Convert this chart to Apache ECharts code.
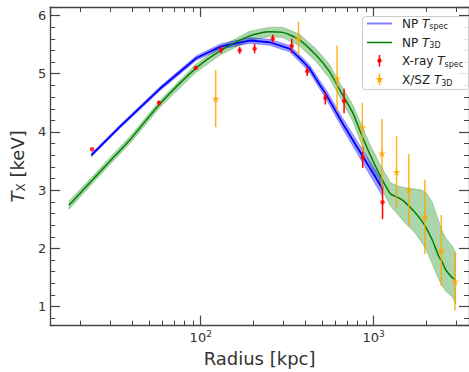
<!DOCTYPE html>
<html><head><meta charset="utf-8">
<script src="https://cdn.jsdelivr.net/npm/echarts@6/dist/echarts.min.js"></script>
<style>html,body{margin:0;padding:0;background:#fff}#c{width:469px;height:372px}</style>
</head><body><div id="c"></div>
<script>
// NP T_spec model (blue) with uncertainty band
const blueR   = [23.3, 34.1, 58, 94.4, 131, 192, 250, 326, 372, 426, 486, 532, 664, 865, 1127];
const blueT   = [3.60, 4.09, 4.74, 5.27, 5.47, 5.57, 5.54, 5.43, 5.27, 5.09, 4.82, 4.64, 4.14, 3.58, 3.02];
const blueErr = [0.03, 0.03, 0.035, 0.04, 0.045, 0.05, 0.05, 0.055, 0.06, 0.065, 0.07, 0.08, 0.09, 0.11, 0.13];
// NP T_3D model (green) with band
const greenR  = [17.3, 23.9, 31.2, 38.9, 58, 93.6, 131, 192, 250, 298, 372, 464, 555, 635, 757, 826, 944, 1104, 1257, 1410, 1534, 1718, 1900, 2009, 2180, 2393, 2490, 2615, 2860, 2991];
const greenT  = [2.74, 3.19, 3.56, 3.86, 4.48, 5.09, 5.40, 5.65, 5.72, 5.71, 5.58, 5.32, 5.04, 4.73, 4.33, 4.05, 3.64, 3.22, 2.93, 2.86, 2.78, 2.63, 2.47, 2.36, 2.15, 1.85, 1.77, 1.63, 1.49, 1.46];
const greenLo = [2.67, 3.13, 3.50, 3.80, 4.42, 5.02, 5.33, 5.57, 5.64, 5.62, 5.48, 5.21, 4.92, 4.61, 4.19, 3.89, 3.47, 3.03, 2.72, 2.55, 2.42, 2.28, 2.10, 1.98, 1.74, 1.45, 1.36, 1.26, 1.16, 1.04];
const greenHi = [2.81, 3.25, 3.62, 3.92, 4.54, 5.16, 5.47, 5.73, 5.80, 5.80, 5.68, 5.43, 5.16, 4.85, 4.47, 4.21, 3.81, 3.41, 3.12, 3.06, 3.04, 3.02, 3.00, 2.96, 2.80, 2.45, 2.30, 2.18, 2.03, 1.91];
// X-ray T_spec data (red)
const xrayR   = [23.5, 57.3, 93.6, 131, 168, 205, 261, 336, 413, 526, 675, 865, 1127];
const xrayT   = [3.70, 4.50, 5.10, 5.41, 5.40, 5.43, 5.60, 5.48, 5.04, 4.58, 4.53, 3.56, 2.79];
const xrayErr = [0.00, 0.03, 0.03, 0.06, 0.06, 0.08, 0.07, 0.12, 0.08, 0.11, 0.21, 0.18, 0.29];
// X/SZ T_3D data (orange)
const szR   = [122, 368, 615, 861, 1118, 1358, 1600, 1981, 2466, 2958];
const szT   = [4.57, 5.61, 4.92, 4.08, 3.63, 3.31, 3.00, 2.54, 1.96, 1.43];
const szErr = [0.49, 0.28, 0.56, 0.42, 0.59, 0.62, 0.62, 0.64, 0.61, 0.50];
// ticks
const xMajorLabels = {100: '10{sup|2}', 1000: '10{sup|3}'};
const xMinorTicks = [20,30,40,50,60,70,80,90,200,300,400,500,600,700,800,900,2000,3000];
const yMinorTicks = [0.8,1.2,1.4,1.6,1.8,2.2,2.4,2.6,2.8,3.2,3.4,3.6,3.8,4.2,4.4,4.6,4.8,5.2,5.4,5.6,5.8];

const FONT = 'DejaVu Sans';
const AX = '#444';
const STAR = 'path://M0,-1 L0.2245,-0.309 L0.951,-0.309 L0.363,0.118 L0.588,0.809 L0,0.382 L-0.588,0.809 L-0.363,0.118 L-0.951,-0.309 L-0.2245,-0.309 Z';

function bandSeries(R, lo, hi, fill) {
  return {type:'custom', silent:true, z:1, data: R.map((r,i)=>[r, lo[i], hi[i]]), encode:{x:0,y:[1,2]},
    renderItem(params, api){
      if (params.dataIndex !== 0) return null;
      const pts = [];
      for (let i=0;i<R.length;i++) pts.push(api.coord([R[i], hi[i]]));
      for (let i=R.length-1;i>=0;i--) pts.push(api.coord([R[i], lo[i]]));
      return {type:'polygon', shape:{points:pts}, style:{fill:fill, stroke:fill, lineWidth:0.8}};
    }};
}
function errSeries(R, T, E, color, w) {
  return {type:'custom', silent:true, z:4, data: R.map((r,i)=>[r, T[i]-E[i], T[i]+E[i]]), encode:{x:0,y:[1,2]},
    renderItem(params, api){
      const a = api.coord([api.value(0), api.value(1)]);
      const b = api.coord([api.value(0), api.value(2)]);
      return {type:'line', shape:{x1:a[0],y1:a[1],x2:b[0],y2:b[1]}, style:{stroke:color, lineWidth:w}};
    }};
}
const minorX = {type:'custom', silent:true, z:6, data: xMinorTicks.map(v=>[v, 3]), encode:{x:0,y:1},
  renderItem(params, api){
    const cs = params.coordSys; const x = Math.round(api.coord([api.value(0), 3])[0]) + 0.5;
    return {type:'group', children:[
      {type:'line', shape:{x1:x,y1:cs.y+cs.height,x2:x,y2:cs.y+cs.height-5}, style:{stroke:AX, lineWidth:1}},
      {type:'line', shape:{x1:x,y1:cs.y,x2:x,y2:cs.y+5}, style:{stroke:AX, lineWidth:1}}]};
  }};
const minorY = {type:'custom', silent:true, z:6, data: yMinorTicks.map(v=>[100, v]), encode:{x:0,y:1},
  renderItem(params, api){
    const cs = params.coordSys; const y = Math.round(api.coord([100, api.value(1)])[1]) + 0.5;
    return {type:'group', children:[
      {type:'line', shape:{x1:cs.x,y1:y,x2:cs.x+5,y2:y}, style:{stroke:AX, lineWidth:1}},
      {type:'line', shape:{x1:cs.x+cs.width,y1:y,x2:cs.x+cs.width-5,y2:y}, style:{stroke:AX, lineWidth:1}}]};
  }};

const axisCommon = {
  axisLine:{show:true, onZero:false, lineStyle:{color:AX, width:1.3}},
  axisTick:{show:true, inside:true, length:10, lineStyle:{color:AX, width:1.2}},
  splitLine:{show:false}, minorTick:{show:false}, minorSplitLine:{show:false}
};
const XMIN = 13.45, XMAX = 3566, YMIN = 0.67, YMAX = 6.146;

const chart = echarts.init(document.getElementById('c'), null, {renderer:'svg'});
const rich = {
  it:{fontStyle:'italic', fontSize:12, fontFamily:FONT, color:'#222'},
  sub:{fontSize:8, fontFamily:FONT, color:'#222', padding:[6,0,0,0]}
};
function legendText(y, txt) {
  return {type:'text', z:101, x:402, y:y, style:{text:txt, fontSize:12, fontFamily:FONT, fill:'#222', verticalAlign:'middle', rich:rich}};
}
function starPts(cx, cy, r) {
  const p=[]; for (let k=0;k<10;k++){ const a=-Math.PI/2 + k*Math.PI/5; const rr = k%2? r*0.382 : r; p.push([cx+rr*Math.cos(a), cy+rr*Math.sin(a)]); } return p;
}
chart.setOption({
  animation:false,
  grid:{left:50, right:-1, top:7, bottom:38, containLabel:false},
  xAxis:[
    Object.assign({type:'log', logBase:10, min:XMIN, max:XMAX, position:'bottom',
      axisLabel:{show:true, margin:4, fontSize:13, fontFamily:FONT, color:'#333', showMinLabel:false, showMaxLabel:false,
        formatter:(v)=>{ const l=Math.log10(v); const k=Math.round(l); return Math.abs(l-k)<1e-6 && xMajorLabels[Math.pow(10,k)] ? xMajorLabels[Math.pow(10,k)] : ''; },
        rich:{sup:{fontSize:9, fontFamily:FONT, color:'#333', padding:[0,0,7,0]}}},
      name:'Radius [kpc]', nameLocation:'middle', nameGap:17, nameTextStyle:{fontSize:18, fontFamily:FONT, color:'#333'}}, axisCommon),
    Object.assign({type:'log', logBase:10, min:XMIN, max:XMAX, position:'top', axisLabel:{show:false}}, axisCommon)
  ],
  yAxis:[
    Object.assign({type:'value', min:YMIN, max:YMAX, splitNumber:5, position:'left',
      axisLabel:{show:true, margin:4, fontSize:13, fontFamily:FONT, color:'#333', showMinLabel:false, showMaxLabel:false,
        formatter:(v)=> Math.abs(v-Math.round(v))<1e-6 ? String(Math.round(v)) : ''},
      name:'{it|T}{sub|X} [keV]', nameLocation:'middle', nameRotate:90, nameGap:14,
      nameTextStyle:{fontSize:18, fontFamily:FONT, color:'#333', rich:{
        it:{fontStyle:'italic', fontSize:18, fontFamily:FONT, color:'#333'},
        sub:{fontSize:12, fontFamily:FONT, color:'#333', padding:[8,0,0,0]}}}}, axisCommon),
    Object.assign({type:'value', min:YMIN, max:YMAX, splitNumber:5, position:'right', axisLabel:{show:false}}, axisCommon)
  ],
  series:[
    bandSeries(greenR, greenLo, greenHi, 'rgba(0,128,0,0.33)'),
    bandSeries(blueR, blueR.map((r,i)=>blueT[i]-blueErr[i]), blueR.map((r,i)=>blueT[i]+blueErr[i]), 'rgba(0,0,255,0.38)'),
    {type:'line', name:'NP Tspec', z:3, data: blueR.map((r,i)=>[r, blueT[i]]), showSymbol:false, lineStyle:{color:'#0000ff', width:1.8}, silent:true},
    {type:'line', name:'NP T3D', z:3, data: greenR.map((r,i)=>[r, greenT[i]]), showSymbol:false, smooth:0.25, lineStyle:{color:'#008000', width:1.5}, silent:true},
    errSeries(xrayR, xrayT, xrayErr, '#ff0000', 1.5),
    errSeries(szR, szT, szErr, 'rgba(255,165,0,0.85)', 1.5),
    {type:'scatter', name:'X-ray Tspec', z:5, data: xrayR.map((r,i)=>[r, xrayT[i]]), symbol:'circle', symbolSize:4.5, itemStyle:{color:'#ff0000'}, silent:true},
    {type:'scatter', name:'X/SZ T3D', z:5, data: szR.map((r,i)=>[r, szT[i]]), symbol:STAR, symbolSize:8, itemStyle:{color:'#ffa500'}, silent:true},
    minorX, minorY
  ],
  graphic:[
    {type:'rect', z:100, shape:{x:362.5, y:16.5, width:106, height:73, r:3}, style:{fill:'rgba(255,255,255,0.85)', stroke:'#cccccc', lineWidth:1}},
    {type:'line', z:101, shape:{x1:367, y1:23.5, x2:392, y2:23.5}, style:{stroke:'#7f7fff', lineWidth:2}},
    {type:'line', z:101, shape:{x1:367, y1:42.5, x2:392, y2:42.5}, style:{stroke:'#008000', lineWidth:1.5}},
    {type:'line', z:101, shape:{x1:379.5, y1:55, x2:379.5, y2:66.5}, style:{stroke:'#ff0000', lineWidth:1.5}},
    {type:'circle', z:102, shape:{cx:379.5, cy:60.7, r:2.2}, style:{fill:'#ff0000'}},
    {type:'line', z:101, shape:{x1:379.5, y1:73.5, x2:379.5, y2:85.5}, style:{stroke:'rgba(255,165,0,0.85)', lineWidth:1.5}},
    {type:'polygon', z:102, shape:{points:starPts(379.5, 79.5, 4.2)}, style:{fill:'#ffa500'}},
    legendText(23.5, 'NP {it|T}{sub|spec}'),
    legendText(42.5, 'NP {it|T}{sub|3D}'),
    legendText(61, 'X-ray {it|T}{sub|spec}'),
    legendText(80, 'X/SZ {it|T}{sub|3D}')
  ]
});
</script>
</body></html>
